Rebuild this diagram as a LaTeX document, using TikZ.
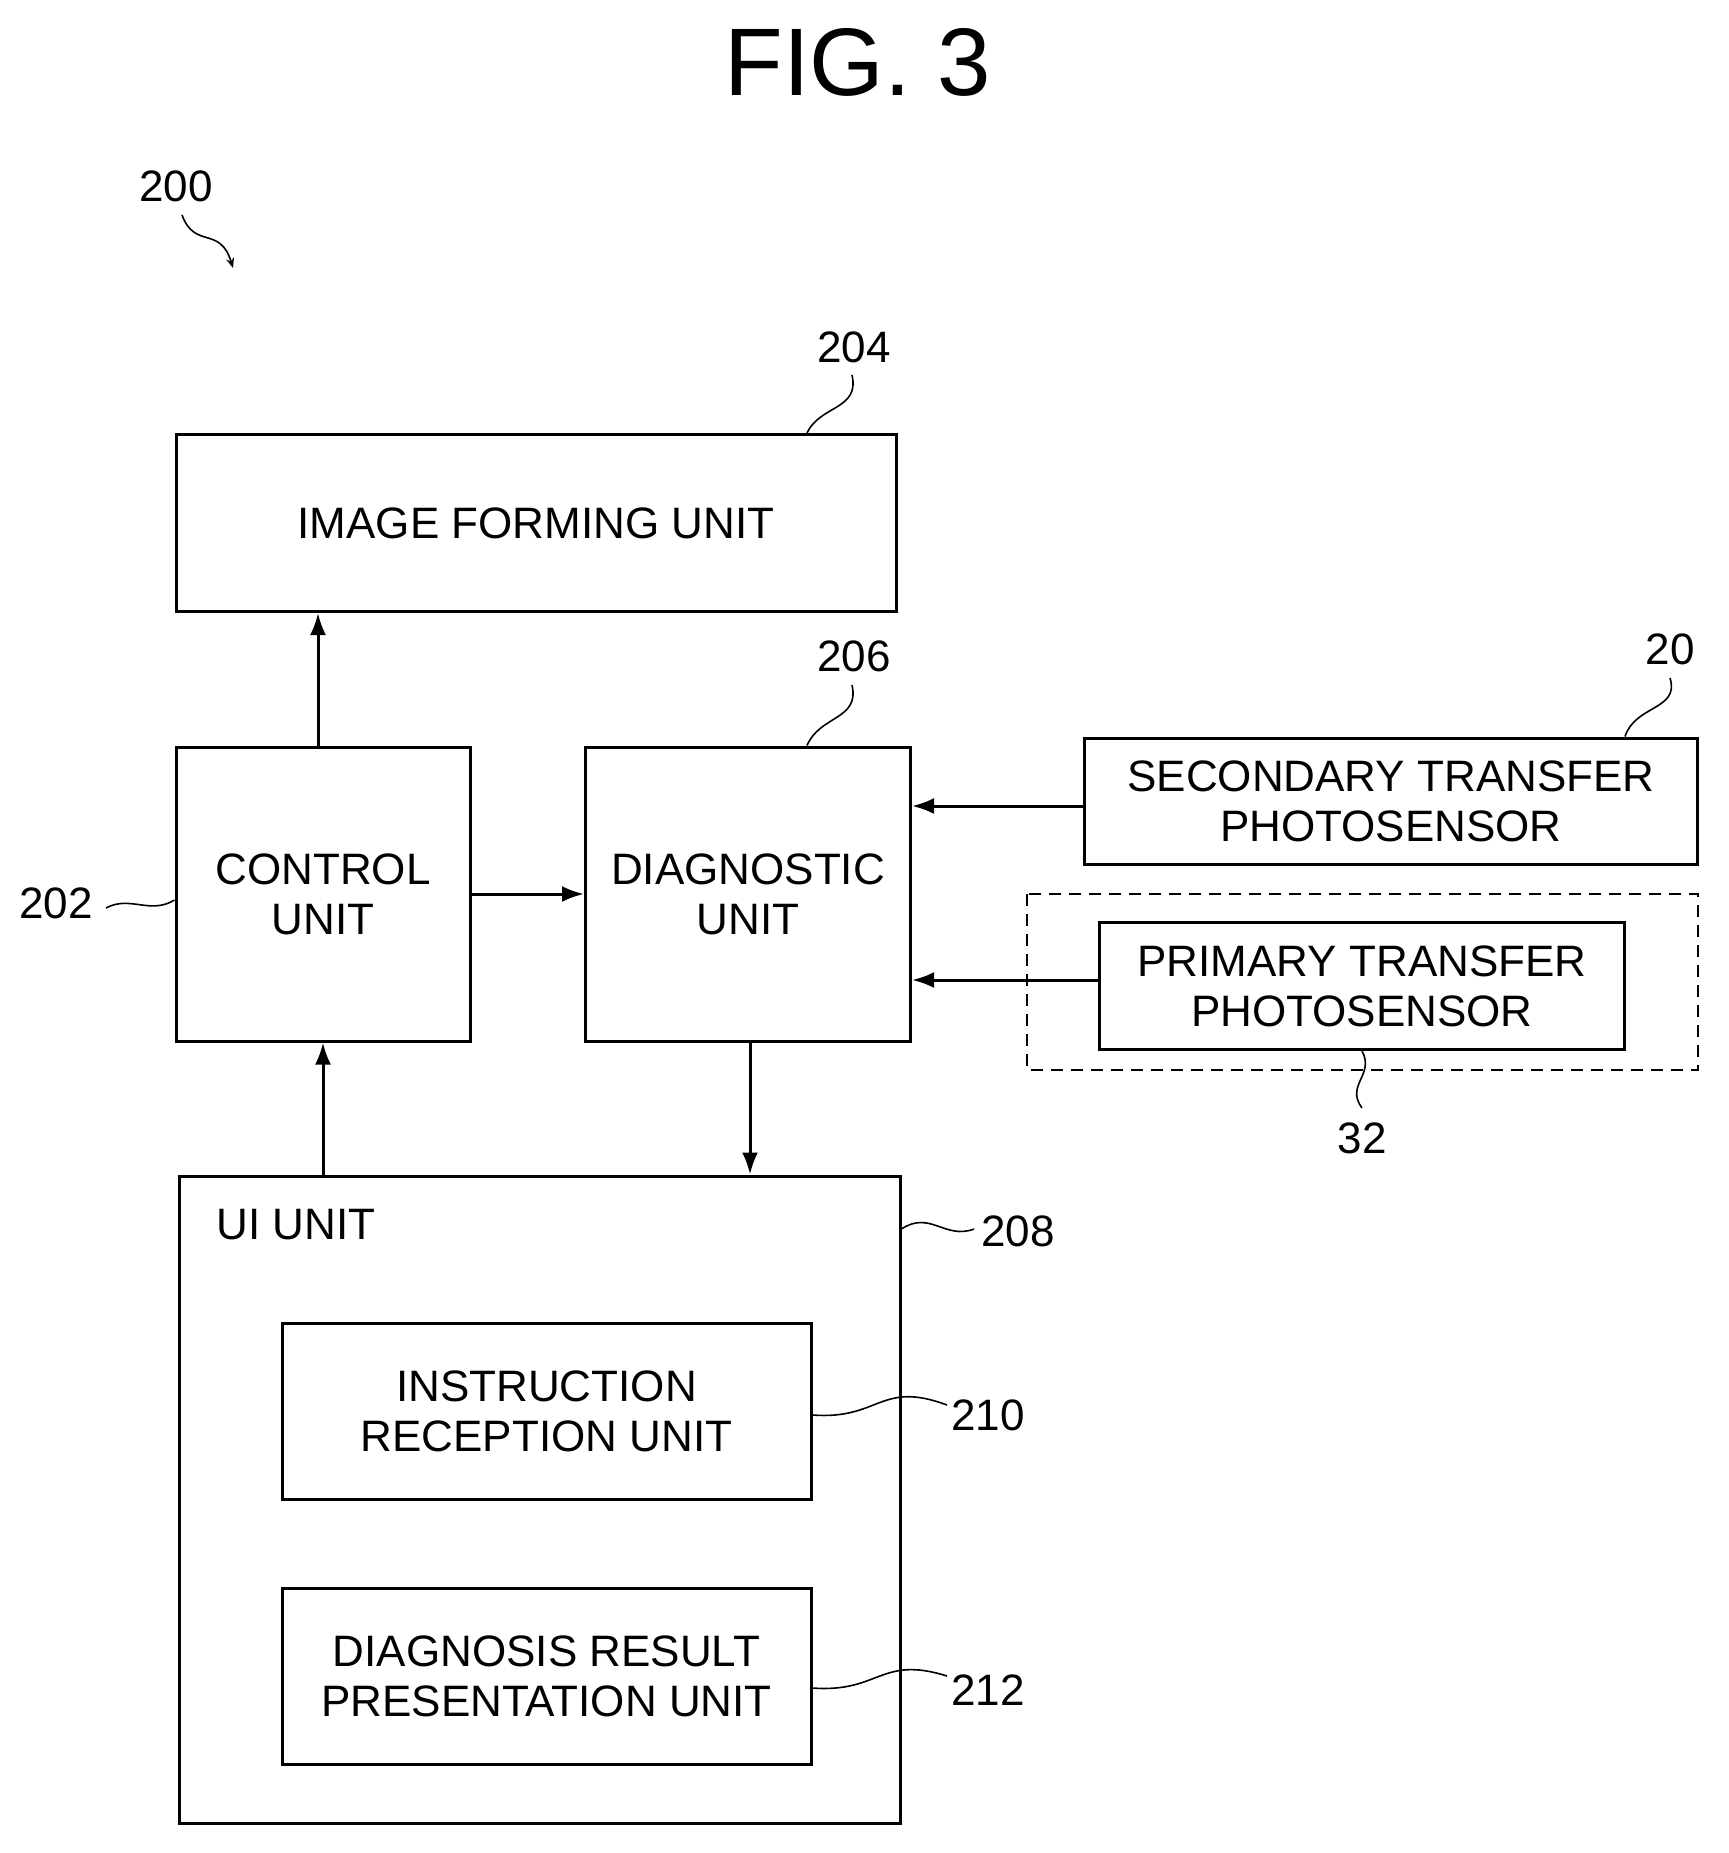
\documentclass[tikz,border=0pt]{standalone}
\usepackage{fontspec}
\setmainfont{Liberation Sans}
\usetikzlibrary{positioning,arrows.meta}

\begin{document}
\begin{tikzpicture}[x=1pt,y=-1pt,
    font=\fontsize{44}{50}\selectfont,
    block/.style={draw, line width=3pt, align=center, inner sep=0pt},
    flow/.style={line width=3pt, -{Latex[length=22pt,width=16pt]}},
    lead/.style={line width=1.6pt},
    ref/.style={inner sep=2pt}]
    \useasboundingbox (0,0) rectangle (1729,1853);

    \node (fig) at (858,62) {\fontsize{96}{100}\selectfont FIG. 3};

    % blocks
    \node[block, minimum width=720pt, minimum height=177pt] (image) at (536,523) {IMAGE FORMING UNIT};
    \node[block, minimum width=294pt, minimum height=294pt] (control) at (323,894) {CONTROL\\UNIT};
    \node[block, minimum width=325pt, minimum height=294pt] (diag) at (748,894) {DIAGNOSTIC\\UNIT};
    \node[block, minimum width=613pt, minimum height=126pt] (second) at (1391,801) {SECONDARY TRANSFER\\PHOTOSENSOR};
    \draw[line width=2.5pt, dash pattern=on 12pt off 8pt] (1027,894) rectangle (1698,1070);
    \coordinate (dashbox) at (1362,1070);
    \node[block, minimum width=525pt, minimum height=127pt] (primary) at (1362,986) {PRIMARY TRANSFER\\PHOTOSENSOR};
    \node[block, minimum width=721pt, minimum height=647pt] (ui) at (539.5,1499.5) {};
    \node (uilabel) at (296,1225) {UI UNIT};
    \node[block, minimum width=529pt, minimum height=176pt] (instr) at (546.5,1411) {INSTRUCTION\\RECEPTION UNIT};
    \node[block, minimum width=529pt, minimum height=176pt] (result) at (546.5,1676) {DIAGNOSIS RESULT\\PRESENTATION UNIT};

    % connectors
    \draw[flow] (control.north -| 318,0) -- (image.south -| 318,0);
    \draw[flow] (control.east |- 0,894) -- (diag.west |- 0,894);
    \draw[flow] (second.west |- 0,806) -- (diag.east |- 0,806);
    \draw[flow] (primary.west |- 0,980) -- (diag.east |- 0,980);
    \draw[flow] (diag.south -| 750,0) -- (ui.north -| 750,0);
    \draw[flow] (ui.north -| 323,0) -- (control.south -| 323,0);

    % reference numerals
    \node[ref] (n200) at (176,186) {200};
    \draw[lead, -{Stealth[length=10pt,width=8pt]}] (182,215) .. controls (195,250) and (220,225) .. (233,268);
    \node[ref] (n204) at (854,347) {204};
    \draw[lead] (image.north -| 807,0) .. controls (820,405) and (860,410) .. (852,375);
    \node[ref] (n206) at (854,656) {206};
    \draw[lead] (diag.north -| 807,0) .. controls (820,715) and (860,720) .. (852,685);
    \node[ref] (n20) at (1670,649) {20};
    \draw[lead] (second.north -| 1625,0) .. controls (1635,705) and (1680,710) .. (1670,678);
    \node[ref] (n202) at (56,903) {202};
    \draw[lead] (106,908) .. controls (130,895) and (150,915) .. (control.west |- 0,900);
    \node[ref] (n32) at (1362,1138) {32};
    \draw[lead] (primary.south) .. controls (1375,1075) and (1345,1085) .. (1362,1108);
    \node[ref] (n208) at (1018,1231) {208};
    \draw[lead] (ui.east |- 0,1229) .. controls (930,1210) and (945,1240) .. (974,1229);
    \node[ref] (n210) at (988,1415) {210};
    \draw[lead] (instr.east |- 0,1415) .. controls (880,1420) and (880,1380) .. (947,1405);
    \node[ref] (n212) at (988,1690) {212};
    \draw[lead] (result.east |- 0,1688) .. controls (880,1693) and (880,1655) .. (947,1676);
\end{tikzpicture}
\end{document}
